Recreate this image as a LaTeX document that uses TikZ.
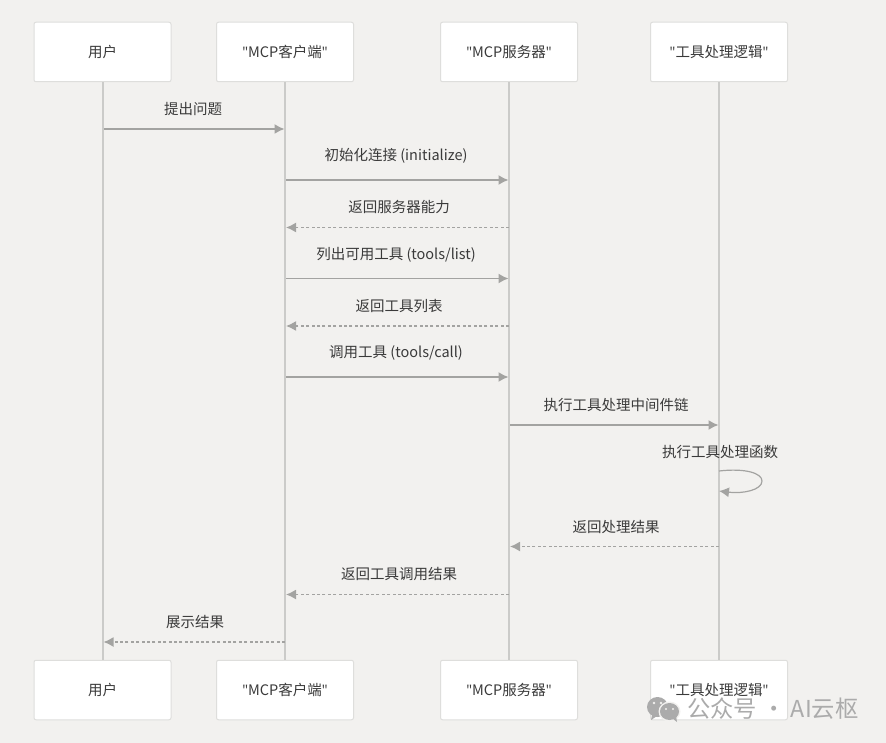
\documentclass[tikz,border=0pt]{standalone}
\usepackage{fontspec}
\setmainfont{Noto Sans CJK SC}
\newfontfamily\latf{Open Sans}
\newcommand{\qt}{{\latf\symbol{34}}}
\newcommand{\acttext}[1]{\raisebox{-0.8pt}{#1}}
\usetikzlibrary{arrows.meta}
\definecolor{bgc}{HTML}{F2F1EF}
\definecolor{linec}{HTML}{CBCBC9}
\definecolor{boxline}{HTML}{DEDEDC}
\definecolor{arrowc}{HTML}{A3A3A1}
\definecolor{textc}{HTML}{3A3A3A}
\definecolor{wmc}{HTML}{ABABAB}
\tikzset{
  actor/.style={draw=boxline,line width=1pt,fill=white,rounded corners=2pt,minimum width=137pt,minimum height=59.5pt,inner sep=0pt,text=textc,font=\fontsize{14.5}{16}\selectfont},
  lifeline/.style={draw=linec,line width=2pt},
  msg/.style={draw=arrowc,line width=1.5pt,-{Latex[length=10pt,width=10pt]}},
  reply/.style={draw=arrowc,line width=1.5pt,dash pattern=on 3pt off 2.4pt,-{Latex[length=10pt,width=10pt]}},
  loopmsg/.style={draw=arrowc,line width=1.2pt,-{Latex[length=10pt,width=10pt]}},
  lbl/.style={text=textc,inner sep=0pt,font=\fontsize{14.5}{16}\selectfont},
  wm/.style={text=wmc,inner sep=0pt,font=\fontsize{23.3}{26}\selectfont}
}
\begin{document}
\begin{tikzpicture}[x=1pt,y=-1pt]
\useasboundingbox[fill=bgc] (0,0) rectangle (886,743);
\node[actor] (u1) at (102.5,52) {\acttext{用户}};
\node[actor] (c1) at (285,52) {\acttext{\qt MCP客户端\qt}};
\node[actor] (s1) at (509,52) {\acttext{\qt MCP服务器\qt}};
\node[actor] (t1) at (719,52) {\acttext{\qt 工具处理逻辑\qt}};
\node[actor] (u2) at (102.5,690) {\acttext{用户}};
\node[actor] (c2) at (285,690) {\acttext{\qt MCP客户端\qt}};
\node[actor] (s2) at (509,690) {\acttext{\qt MCP服务器\qt}};
\node[actor] (t2) at (719,690) {\acttext{\qt 工具处理逻辑\qt}};
\draw[lifeline] (u1.south) -- (u2.north);
\draw[lifeline] (c1.south) -- (c2.north);
\draw[lifeline] (s1.south) -- (s2.north);
\draw[lifeline] (t1.south) -- (t2.north);
% rows
\coordinate (r1) at (0,129);
\coordinate (r2) at (0,180);
\coordinate (r3) at (0,227.5);
\coordinate (r4) at (0,278.5);
\coordinate (r5) at (0,326);
\coordinate (r6) at (0,377);
\coordinate (r7) at (0,425);
\coordinate (r8) at (0,471);
\coordinate (r9) at (0,491);
\coordinate (r10) at (0,546.5);
\coordinate (r11) at (0,594.5);
\coordinate (r12) at (0,642);
\coordinate (loopx) at (762,481);
\draw[msg] ([xshift=1pt]u1.south |- r1) -- ([xshift=-0.5pt]c1.south |- r1);
\draw[msg] ([xshift=1pt]c1.south |- r2) -- ([xshift=-0.5pt]s1.south |- r2);
\draw[reply] (s1.south |- r3) -- ([xshift=1pt]c1.south |- r3);
\draw[msg] ([xshift=1pt]c1.south |- r4) -- ([xshift=-0.5pt]s1.south |- r4);
\draw[reply] (s1.south |- r5) -- ([xshift=1pt]c1.south |- r5);
\draw[msg] ([xshift=1pt]c1.south |- r6) -- ([xshift=-0.5pt]s1.south |- r6);
\draw[msg] ([xshift=1pt]s1.south |- r7) -- ([xshift=-0.5pt]t1.south |- r7);
\draw[loopmsg] (t1.south |- r8) .. controls +(26,-3) and +(0,-8) .. (loopx) .. controls +(0,9) and +(24,3) .. (t1.south |- r9);
\draw[reply] (t1.south |- r10) -- ([xshift=1pt]s1.south |- r10);
\draw[reply] (s1.south |- r11) -- ([xshift=1pt]c1.south |- r11);
\draw[reply] (c1.south |- r12) -- ([xshift=1pt]u1.south |- r12);
% labels
\node[lbl] (m1) at (193,108.7) {提出问题};
\node[lbl] (m2) at (396,156.2) {初始化连接 (initialize)};
\node[lbl] (m3) at (399,206.7) {返回服务器能力};
\node[lbl] (m4) at (396,254.7) {列出可用工具 (tools/list)};
\node[lbl] (m5) at (399,305.7) {返回工具列表};
\node[lbl] (m6) at (396,353.2) {调用工具 (tools/call)};
\node[lbl] (m7) at (616,404.7) {执行工具处理中间件链};
\node[lbl] (m8) at (720,451.7) {执行工具处理函数};
\node[lbl] (m9) at (616,526.7) {返回处理结果};
\node[lbl] (m10) at (399,573.7) {返回工具调用结果};
\node[lbl] (m11) at (195,621.7) {展示结果};
% watermark
\fill[wmc] (657.5,707) ellipse (10.5pt and 10pt);
\fill[wmc] (652,715) -- (651,720) -- (657,716) -- cycle;
\fill[bgc] (669.5,711.5) ellipse (11pt and 10pt);
\fill[wmc] (669.5,711.5) ellipse (9.5pt and 8.5pt);
\fill[wmc] (672,718) -- (677,722) -- (676,716) -- cycle;
\fill[bgc] (654,703) circle (1.4pt) (661,703) circle (1.4pt) (666,709) circle (1.1pt) (673,709) circle (1.1pt);
\node[wm,anchor=west] (wmt) at (687,708.5) {公众号 · AI云枢};
\end{tikzpicture}
\end{document}
